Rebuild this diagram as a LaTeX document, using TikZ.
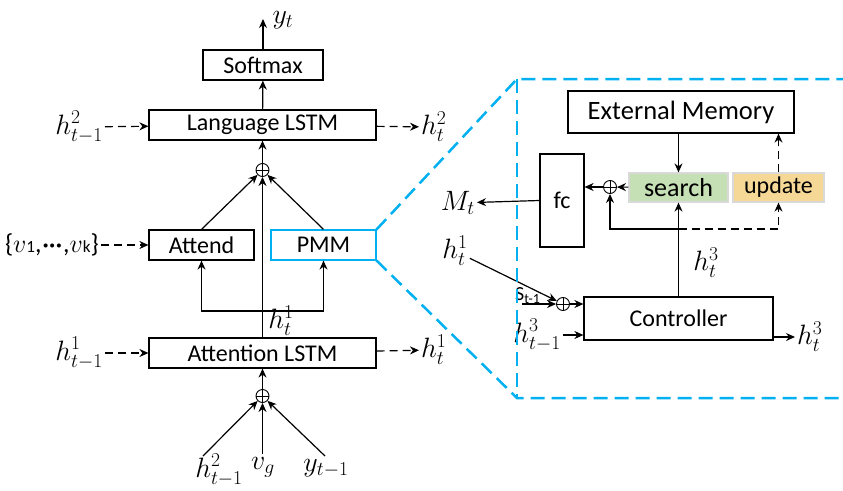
\RequirePackage{fix-cm}
\documentclass[tikz,border=0pt]{standalone}
\usepackage{amsmath,amssymb}
\usepackage{fontspec}
\setmainfont{Carlito}
\usetikzlibrary{arrows.meta}
\definecolor{zoomblue}{RGB}{0,176,240}
\definecolor{searchgreen}{RGB}{197,224,180}
\definecolor{updateorange}{RGB}{246,216,150}
\tikzset{oplus/.style={circle,draw=black,line width=0.9pt,minimum size=13,inner sep=0,fill=white,
  path picture={\draw[line width=0.9pt] (path picture bounding box.north) -- (path picture bounding box.south)
  (path picture bounding box.west) -- (path picture bounding box.east);}}}

\begin{document}
\begin{tikzpicture}[x=1pt,y=-1pt,font=\fontsize{24}{28}\selectfont]
		\useasboundingbox (0,0) rectangle (843,490);

		\begin{scope}[every node/.style={rectangle,draw=black,line width=1.2pt,inner sep=0,minimum height=30}]
		\node[minimum width=120] (softmax) at (263,65) {Softmax};
		\node[minimum width=227] (langlstm) at (262.5,125) {Language LSTM};
		\node[minimum width=105] (attend) at (201.5,245) {Attend};
		\node[minimum width=105,draw=zoomblue] (pmm) at (323.5,245) {PMM};
		\node[minimum width=227] (attlstm) at (262.5,353) {Attention LSTM};
		\node[minimum width=226,minimum height=42,font=\fontsize{26.5}{30}\selectfont] (extmem) at (681,112) {External Memory};
		\node[minimum width=44,minimum height=93] (fc) at (562,200.5) {fc};
		\node[minimum width=99,minimum height=29,fill=searchgreen,draw=black!15,font=\fontsize{26}{30}\selectfont] (search) at (678.5,187.5) {search};
		\node[minimum width=91,minimum height=29,fill=updateorange,draw=black!15] (update) at (778.5,187.5) {update};
		\node[minimum width=189,minimum height=43] (controller) at (678.5,318.5) {Controller};
		\end{scope}

		\node[oplus] (plusA) at (262.5,170) {};
		\node[oplus] (plusB) at (262.5,396) {};
		\node[oplus] (plusC) at (610,187) {};
		\node[oplus] (plusD) at (563,304) {};

		\begin{scope}[every node/.style={inner sep=2pt,font=\fontsize{28}{32}\selectfont}]
		\node (yt) at (283,20) {$y_t$};
		\node[anchor=east] (h2tmL) at (105,127) {$h^2_{t-1}$};
		\node[anchor=west] (h2tR) at (419,127) {$h^2_t$};
		\node[anchor=east,font=\fontsize{26}{30}\selectfont] (vset) at (101,245)
		  {\{$v${\fontsize{17}{20}\selectfont 1},$\boldsymbol{{\cdot}\mkern-1mu{\cdot}\mkern-1mu{\cdot}}$,$v${\fontsize{17}{20}\selectfont k}\}};
		\node (h1tmid) at (281,321) {$h^1_t$};
		\node[anchor=east] (h1tmL) at (105,353) {$h^1_{t-1}$};
		\node[anchor=west] (h1tR) at (419,350) {$h^1_t$};
		\node (h2tmB) at (219,470) {$h^2_{t-1}$};
		\node (vg) at (263,467) {$v_g$};
		\node (ytmB) at (326,468) {$y_{t-1}$};
		\node[anchor=east] (Mt) at (477,203) {$M_t$};
		\node (h1tP) at (455,251) {$h^1_t$};
		\node[anchor=west,inner sep=0,font=\fontsize{20}{24}\selectfont] (st) at (515,296) {S\textsubscript{t-1}};
		\node (h3t) at (706,263) {$h^3_t$};
		\node[anchor=east] (h3tmC) at (563,335) {$h^3_{t-1}$};
		\node[anchor=west] (h3tR) at (795,337) {$h^3_t$};
		\end{scope}

		\coordinate (ytend) at (263,19);
		\coordinate (inA) at (203,456);
		\coordinate (inB) at (262.5,454);
		\coordinate (inC) at (325,456);
		\coordinate (split) at (262.5,311);
		\coordinate (branch) at (678.5,229);
		\coordinate (stA) at (522,304);

		% left column
		\begin{scope}[>={Stealth[black,length=9pt,width=8pt]},line width=1.2pt,
		every edge/.style={draw=black,line width=1.2pt}]
		\path [->] (softmax) edge (ytend);
		\path [->] (langlstm) edge (softmax);
		\path [->] (plusA) edge (langlstm);
		\path [->] (attend.north) edge (plusA);
		\path [->] (pmm.north) edge (plusA);
		\path [->] (attlstm.north) edge (plusA);
		\path [->] (plusB) edge (attlstm);
		\path [->] (inA) edge (plusB);
		\path [->] (inB) edge (plusB);
		\path [->] (inC) edge (plusB);
		\draw [->] (split) -| (attend.south);
		\draw [->] (split) -| (pmm.south);
		\path [dashed, dash pattern=on 8pt off 5pt, ->] (h2tmL) edge (langlstm);
		\path [dashed, dash pattern=on 8pt off 5pt, ->] (langlstm) edge (h2tR);
		\path [dashed, dash pattern=on 8pt off 5pt, ->] (vset) edge (attend);
		\path [dashed, dash pattern=on 8pt off 5pt, ->] (h1tmL) edge (attlstm);
		\path [dashed, dash pattern=on 8pt off 5pt, ->] (attlstm) edge (h1tR);

		% memory module
		\path [->] (search.north |- extmem.south) edge (search.north);
		\path [dashed, dash pattern=on 8pt off 5pt, ->] (update.north) edge (update.north |- extmem.south);
		\path [->] (search) edge (plusC);
		\path [->] (plusC) edge (plusC -| fc.east);
		\path [->] (fc.west) edge (Mt);
		\path [->] (controller) edge (search);
		\draw [->] (branch) -| (plusC);
		\draw [dashed, dash pattern=on 8pt off 5pt, ->] (branch) -| (update.south);
		\path [->] (plusD) edge (plusD -| controller.west);
		\path [->] (stA) edge (plusD);
		\path [->] (h1tP) edge (plusD);
		\path [->] (h3tmC.east) edge (h3tmC.east -| controller.west);
		\path [->] (controller.east |- h3tR) edge (h3tR);
		\end{scope}

		% zoom frame
		\begin{scope}[draw=zoomblue,line width=2.5pt,dash pattern=on 14pt off 7pt]
		\draw (pmm.north east) -- (517,79) -- (843,79);
		\draw (pmm.south east) -- (517,398) -- (843,398);
		\draw (517,79) -- (517,398);
		\end{scope}
\end{tikzpicture}
\end{document}
